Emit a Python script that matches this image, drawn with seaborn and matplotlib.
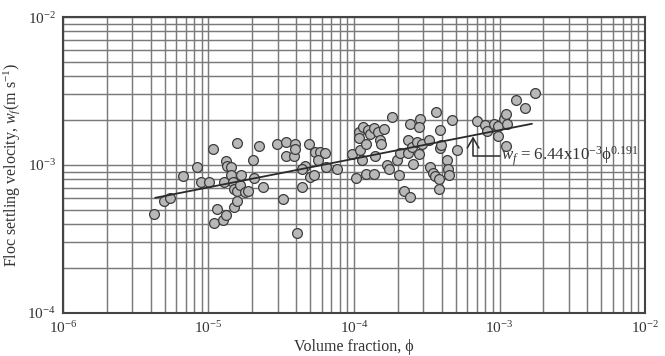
import matplotlib
matplotlib.use("Agg")
import matplotlib.pyplot as plt
import seaborn as sns
import pandas as pd
from matplotlib.ticker import NullFormatter, LogLocator

# ---- data ----
phi = [4.23e-6, 4.95e-6, 5.46e-6, 6.72e-6, 8.38e-6, 8.90e-6, 1.006e-5, 1.07e-5,
       1.137e-5, 1.083e-5, 1.253e-5, 1.316e-5, 1.487e-5, 1.561e-5, 1.316e-5, 1.332e-5,
       1.434e-5, 1.285e-5, 1.434e-5, 1.469e-5, 1.487e-5, 1.581e-5, 1.64e-5, 1.68e-5,
       1.787e-5, 1.876e-5, 1.581e-5, 2.02e-5, 2.04e-5, 2.37e-5, 2.24e-5, 2.95e-5,
       3.39e-5, 3.95e-5, 3.41e-5, 3.86e-5, 3.95e-5, 3.25e-5, 4.36e-5, 4.60e-5,
       4.41e-5, 4.92e-5, 4.98e-5, 5.30e-5, 5.36e-5, 5.84e-5, 6.36e-5, 5.63e-5,
       6.44e-5, 7.64e-5, 4.05e-5, 9.64e-5, 1.037e-4, 1.130e-4, 1.102e-4, 1.089e-4,
       1.144e-4, 1.246e-4, 1.076e-4, 1.201e-4, 1.292e-4, 1.373e-4, 1.460e-4, 1.515e-4,
       1.533e-4, 1.610e-4, 1.390e-4, 1.216e-4, 1.365e-4, 1.820e-4, 1.691e-4, 1.733e-4,
       1.982e-4, 2.031e-4, 2.056e-4, 2.212e-4, 2.410e-4, 2.350e-4, 2.439e-4, 2.350e-4,
       2.530e-4, 2.499e-4, 2.690e-4, 2.790e-4, 2.859e-4, 2.790e-4, 2.930e-4, 3.270e-4,
       3.311e-4, 3.476e-4, 3.606e-4, 3.834e-4, 3.834e-4, 3.650e-4, 3.928e-4, 3.880e-4,
       3.977e-4, 4.33e-4, 4.44e-4, 4.49e-4, 4.72e-4, 5.08e-4, 6.97e-4, 7.97e-4,
       8.17e-4, 9.12e-4, 9.82e-4, 9.82e-4, 1.070e-3, 1.110e-3, 1.123e-3, 1.110e-3,
       1.300e-3, 1.505e-3, 1.764e-3]
wf = [4.64e-4, 5.75e-4, 5.96e-4, 8.40e-4, 9.62e-4, 7.65e-4, 7.65e-4, 1.274e-3,
      5.07e-4, 4.03e-4, 4.23e-4, 4.62e-4, 5.18e-4, 5.69e-4, 1.062e-3, 9.87e-4,
      9.62e-4, 7.65e-4, 8.53e-4, 7.65e-4, 6.93e-4, 6.65e-4, 7.30e-4, 8.53e-4,
      6.58e-4, 6.72e-4, 1.406e-3, 1.073e-3, 8.18e-4, 7.15e-4, 1.335e-3, 1.391e-3,
      1.421e-3, 1.377e-3, 1.142e-3, 1.142e-3, 1.280e-3, 5.93e-4, 7.15e-4, 9.87e-4,
      9.47e-4, 1.391e-3, 8.31e-4, 8.53e-4, 1.216e-3, 1.216e-3, 1.203e-3, 1.073e-3,
      9.62e-4, 9.37e-4, 3.47e-4, 1.178e-3, 8.18e-4, 1.073e-3, 1.267e-3, 1.661e-3,
      1.805e-3, 1.732e-3, 1.512e-3, 1.391e-3, 1.610e-3, 1.786e-3, 1.661e-3, 1.482e-3,
      1.391e-3, 1.750e-3, 1.154e-3, 8.76e-4, 8.76e-4, 2.110e-3, 9.97e-4, 9.37e-4,
      1.073e-3, 8.53e-4, 1.203e-3, 6.72e-4, 6.11e-4, 1.203e-3, 1.882e-3, 1.482e-3,
      1.018e-3, 1.321e-3, 1.436e-3, 1.178e-3, 2.045e-3, 1.805e-3, 1.377e-3, 1.482e-3,
      9.77e-4, 8.89e-4, 8.44e-4, 8.10e-4, 6.93e-4, 2.27e-3, 1.732e-3, 1.294e-3,
      1.362e-3, 1.073e-3, 9.37e-4, 8.62e-4, 2.024e-3, 1.267e-3, 1.982e-3, 1.862e-3,
      1.696e-3, 1.902e-3, 1.843e-3, 1.576e-3, 2.045e-3, 2.22e-3, 1.902e-3, 1.335e-3,
      2.74e-3, 2.44e-3, 3.07e-3]

fit_phi = [4.3e-6, 1.67e-3]
fit_wf = [6.0e-4, 1.90e-3]

x_ticks = [1e-6, 1e-5, 1e-4, 1e-3, 1e-2]
x_tick_labels = ["$10^{-6}$", "$10^{-5}$", "$10^{-4}$", "$10^{-3}$", "$10^{-2}$"]
y_ticks = [1e-4, 1e-3, 1e-2]
y_tick_labels = ["$10^{-4}$", "$10^{-3}$", "$10^{-2}$"]

eq_text = r"$w_f$ = 6.44x10$^{-3}$$\mathrm{\phi}$$^{0.191}$"
eq_xy = (1.03e-3, 1.15e-3)
arrow_tip = (6.58e-4, 1.56e-3)
arrow_corner_start = (1.0e-3, 1.15e-3)

# ---- style ----
sns.set_theme(style="white")
plt.rcParams["font.family"] = ["Liberation Serif", "DejaVu Serif"]
plt.rcParams["mathtext.fontset"] = "custom"
plt.rcParams["mathtext.rm"] = "Liberation Serif"
plt.rcParams["mathtext.it"] = "Liberation Serif:italic"
plt.rcParams["mathtext.bf"] = "Liberation Serif:bold"

fig = plt.figure(figsize=(6.65, 3.56), dpi=100)
ax = fig.add_axes([0.0947, 0.121, 0.8753, 0.831])

df = pd.DataFrame({"phi": phi, "wf": wf})
sns.scatterplot(data=df, x="phi", y="wf", ax=ax, color="#b8b8b8",
                edgecolor="#3c3c3c", linewidth=0.9, s=50, zorder=3)
fit_df = pd.DataFrame({"phi": fit_phi, "wf": fit_wf})
sns.lineplot(data=fit_df, x="phi", y="wf", ax=ax, color="#2a2a2a", lw=1.3, zorder=4)

ax.set_xscale("log")
ax.set_yscale("log")
ax.set_xlim(1e-6, 1e-2)
ax.set_ylim(1e-4, 1e-2)

ax.xaxis.set_minor_locator(LogLocator(base=10, subs=range(2, 10), numticks=20))
ax.yaxis.set_minor_locator(LogLocator(base=10, subs=range(2, 10), numticks=20))
ax.set_xticks(x_ticks)
ax.set_xticklabels(x_tick_labels)
ax.set_yticks(y_ticks)
ax.set_yticklabels(y_tick_labels)
ax.xaxis.set_minor_formatter(NullFormatter())
ax.yaxis.set_minor_formatter(NullFormatter())

ax.grid(True, which="both", color="#7a7a7a", lw=1.05)
ax.set_axisbelow(True)
ax.tick_params(which="both", length=0, labelsize=11, colors="#333333", pad=5)
for sp in ax.spines.values():
    sp.set_color("#444444")
    sp.set_linewidth(1.5)

ax.set_xlabel("Volume fraction, ϕ", fontsize=11.5, color="#333333", labelpad=2)
ax.set_ylabel(r"Floc settling velocity, $w_f$(m s$^{-1}$)", fontsize=11.5,
              color="#333333", labelpad=4)

ax.annotate("", xy=arrow_tip, xytext=arrow_corner_start,
            arrowprops=dict(arrowstyle="->,head_length=0.6,head_width=0.35",
                            connectionstyle="angle,angleA=0,angleB=90,rad=0",
                            color="#2a2a2a", lw=1.1, shrinkA=0, shrinkB=0),
            zorder=5)
ax.text(eq_xy[0], eq_xy[1], eq_text, fontsize=12.2, color="#333333",
        va="center", ha="left", zorder=5)

fig.savefig("out.png", dpi=100, facecolor="white")
